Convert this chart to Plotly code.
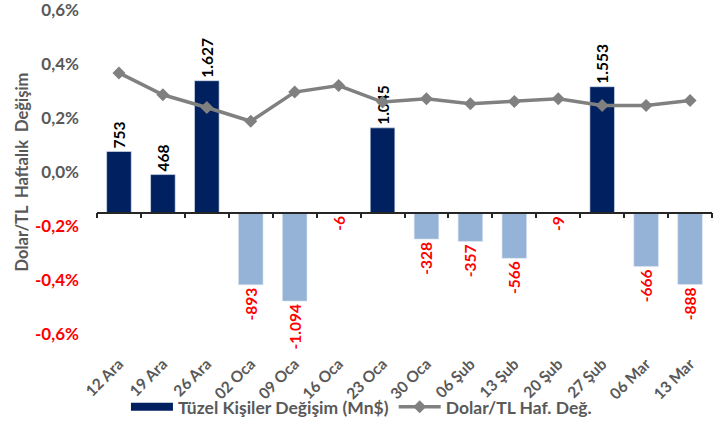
import plotly.graph_objects as go

categories = ["12 Ara", "19 Ara", "26 Ara", "02 Oca", "09 Oca", "16 Oca", "23 Oca",
              "30 Oca", "06 Şub", "13 Şub", "20 Şub", "27 Şub", "06 Mar", "13 Mar"]
tuzel = [753, 468, 1627, -893, -1094, -6, 1045, -328, -357, -566, -9, 1553, -666, -888]
dolar_tl = [0.367, 0.286, 0.239, 0.188, 0.296, 0.320, 0.259, 0.271, 0.253, 0.261,
            0.271, 0.246, 0.246, 0.265]  # percent
pct_ticks = [-0.6, -0.4, -0.2, 0.0, 0.2, 0.4, 0.6]

GRAY = "#595959"
FONT = "Lato"
NAVY = "#002060"

def fmt_tr(v):
    s = f"{abs(v):,}".replace(",", ".")
    return ("-" if v < 0 else "") + s

bar_colors = [NAVY if v >= 0 else "#95B3D7" for v in tuzel]
text_colors = ["#000000" if v >= 0 else "#FF0000" for v in tuzel]

fig = go.Figure()
fig.add_trace(go.Bar(
    x=categories, y=tuzel, name="Tüzel Kişiler Değişim (Mn$)",
    marker=dict(color=bar_colors, line=dict(color="#DCE6F2", width=0.6)),
    text=[fmt_tr(v) for v in tuzel], textposition="outside", textangle=-90,
    textfont=dict(family=FONT, size=15.5, color=text_colors, weight="bold"),
    cliponaxis=False, xaxis="x", yaxis="y", showlegend=False,
))
# legend-only entry with a wide swatch for the bar series
fig.add_trace(go.Scatter(
    x=[None], y=[None], name="Tüzel Kişiler Değişim (Mn$)", mode="lines",
    line=dict(color=NAVY, width=8), xaxis="x", yaxis="y", showlegend=True,
))
fig.add_trace(go.Scatter(
    x=categories, y=[v / 100 for v in dolar_tl], name="Dolar/TL Haf. Değ.",
    mode="lines+markers", line=dict(color="#808080", width=3.5),
    marker=dict(symbol="diamond", size=10, color="#808080"),
    xaxis="x2", yaxis="y2",
))

def tick_text(v):
    s = f"{v:.1f}".replace(".", ",") + "%"
    if v < 0:
        return f"<span style='color:#FF0000'>{s}</span>"
    return s

fig.update_layout(
    width=721, height=426,
    margin=dict(l=97, r=9, t=10, b=92, autoexpand=False),
    paper_bgcolor="white", plot_bgcolor="white",
    font=dict(family=FONT, color=GRAY, size=14),
    bargap=0.44,
    uniformtext=dict(minsize=15, mode="show"),
    xaxis=dict(
        type="category", range=[-0.5, 13.5], showline=False, ticks="",
        showgrid=False, zeroline=False, tickangle=-45, ticklabelstandoff=17,
        automargin=False, ticklabeloverflow="allow",
        tickfont=dict(family=FONT, size=15.5, color=GRAY, weight="bold"),
    ),
    yaxis=dict(
        range=[-1500, 2500], showticklabels=False, showgrid=False,
        zeroline=False, showline=False, fixedrange=True, automargin=False,
    ),
    xaxis2=dict(
        type="category", range=[-0.5, 13.5], overlaying="x", anchor="free",
        position=0.375, showline=True, linecolor="#262626", linewidth=1.5,
        ticks="outside", ticklen=5, tickwidth=1.5, tickcolor="#262626",
        tickson="boundaries", showticklabels=False, showgrid=False, zeroline=False,
        automargin=False,
    ),
    yaxis2=dict(
        range=[-0.006, 0.006], overlaying="y", anchor="free", position=0, side="left",
        tickvals=[v / 100 for v in pct_ticks], ticktext=[tick_text(v) for v in pct_ticks],
        showgrid=False, zeroline=False, showline=False, ticklabelstandoff=18,
        automargin=False, ticklabeloverflow="allow",
        tickfont=dict(family=FONT, size=17, color=GRAY, weight="bold"),
        title=dict(text="Dolar/TL\u00a0 Haftalık\u00a0 Değişim", standoff=1,
                   font=dict(family=FONT, size=16.5, color=GRAY, weight="bold")),
    ),
    legend=dict(
        orientation="h", x=0.43, xanchor="center", y=-0.225, yanchor="middle",
        bgcolor="rgba(0,0,0,0)",
        font=dict(family=FONT, size=17.5, color=GRAY, weight="bold"),
        itemwidth=42, traceorder="normal",
    ),
)

fig.write_html("out.html", config={"displayModeBar": False},
               post_script="document.body.style.margin='0px';")
